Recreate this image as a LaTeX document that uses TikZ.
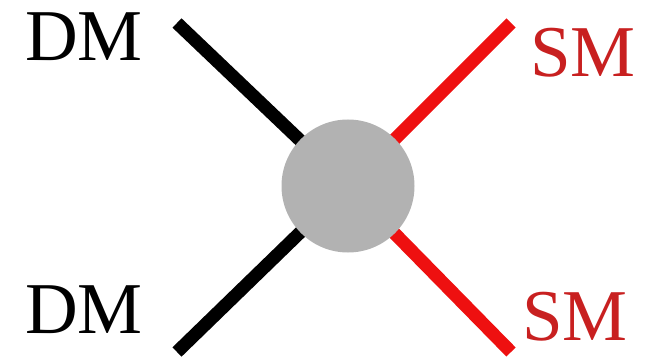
\documentclass[tikz,border=0pt]{standalone}
\usepackage{fontspec}
\setmainfont{Liberation Serif}
\definecolor{legred}{RGB}{238,16,16}
\definecolor{smred}{RGB}{200,32,32}
\tikzset{
  leg/.style={line width=13pt},
  lbl/.style={inner sep=0pt,font=\fontsize{73}{80}\selectfont},
}
\begin{document}
\begin{tikzpicture}[x=1pt,y=-1pt]
\useasboundingbox (0,0) rectangle (653,358);
% vertex and leg ends
\coordinate (vtx) at (348,186);
\coordinate (inA) at (177,23);
\coordinate (inB) at (177,352);
\coordinate (outA) at (511,23);
\coordinate (outB) at (511,352);
\draw[leg] (inA) -- (vtx);
\draw[leg] (inB) -- (vtx);
\draw[leg,legred] (outA) -- (vtx);
\draw[leg,legred] (outB) -- (vtx);
\node[circle,fill=black!30,minimum size=133pt,inner sep=0pt] (blob) at (vtx) {};
% labels
\node[lbl,anchor=base west] (dmA) at (25,61) {DM};
\node[lbl,anchor=base west] (dmB) at (25,333) {DM};
\node[lbl,anchor=base west,text=smred] (smA) at (530,77) {SM};
\node[lbl,anchor=base west,text=smred] (smB) at (522,340) {SM};
\end{tikzpicture}
\end{document}
